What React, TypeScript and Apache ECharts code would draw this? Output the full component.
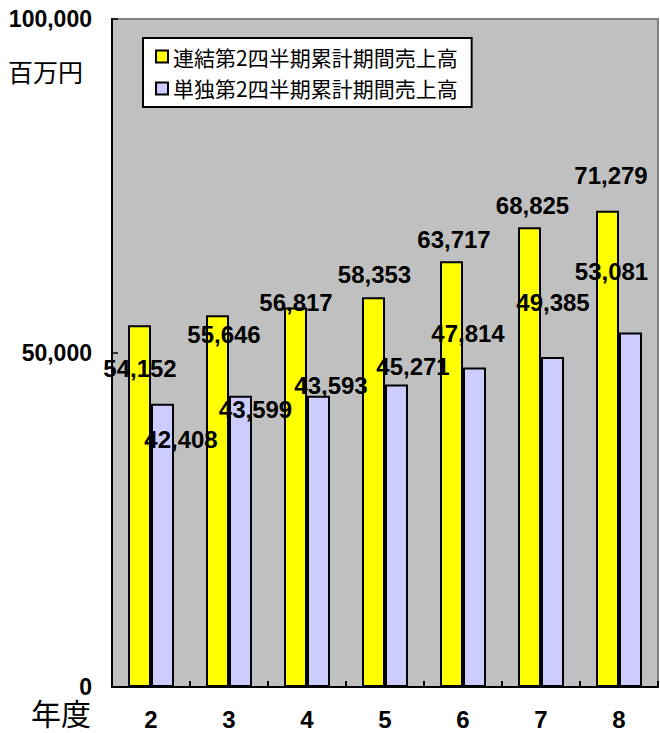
import React, { useEffect, useRef } from "react";
import * as echarts from "echarts";

const categories = ["2", "3", "4", "5", "6", "7", "8"];
const seriesNames = ["連結第2四半期累計期間売上高", "単独第2四半期累計期間売上高"];
const consolidated = [54152, 55646, 56817, 58353, 63717, 68825, 71279];
const standalone = [42408, 43599, 43593, 45271, 47814, 49385, 53081];
const yMin = 0;
const yMax = 100000;
const yInterval = 50000;

// label placement tweaks (style only), relative to bar top-center
const consolidatedLabelOffsets = [
  [0.5, 43], [6.5, 19], [0.5, -4.5], [1, -23], [2.5, -22], [3, -22], [3.5, -35],
];
const standaloneLabelOffsets = [
  [18.5, 36], [15, 14], [12.5, -10], [16.5, -18.5], [-6.5, -34], [0.5, -55], [-19, -61],
];

const fmt = (v: number) => v.toLocaleString("en-US");
const LATIN = "'Liberation Sans', Arial, sans-serif";
const CJK = "'Noto Sans CJK JP', 'Noto Sans CJK SC', sans-serif";

export default function App() {
  const ref = useRef<HTMLDivElement>(null);
  useEffect(() => {
    if (!ref.current) return;
    const chart = echarts.init(ref.current, null, { renderer: "svg" });
    const labelBase = {
      show: true,
      position: "top",
      distance: 0,
      verticalAlign: "middle",
      align: "center",
      fontSize: 24,
      fontWeight: "bold",
      fontFamily: LATIN,
      color: "#000",
      formatter: (p: any) => fmt(p.value),
    };
    chart.setOption({
      animation: false,
      backgroundColor: "#ffffff",
      grid: {
        left: 112,
        top: 19,
        right: 2,
        bottom: 46,
        show: true,
        backgroundColor: "#C0C0C0",
        borderColor: "#808080",
        borderWidth: 2,
      },
      legend: {
        orient: "vertical",
        left: 143,
        top: 38,
        backgroundColor: "#ffffff",
        borderColor: "#000000",
        borderWidth: 2,
        borderRadius: 0,
        padding: [8, 14, 8, 12],
        itemGap: 11,
        itemWidth: 12,
        itemHeight: 12,
        icon: "rect",
        textStyle: { fontSize: 21, fontFamily: CJK, color: "#000", padding: [0, 0, 0, 0] },
        data: seriesNames,
      },
      xAxis: {
        type: "category",
        data: categories,
        axisLine: { show: true, lineStyle: { color: "#000", width: 2 } },
        axisTick: { show: true, inside: true, length: 6, lineStyle: { color: "#000", width: 2 } },
        axisLabel: { fontSize: 24, fontWeight: "bold", fontFamily: LATIN, color: "#000", margin: 20 },
        splitLine: { show: false },
      },
      yAxis: {
        type: "value",
        min: yMin,
        max: yMax,
        interval: yInterval,
        axisLine: { show: true, lineStyle: { color: "#000", width: 2 } },
        axisTick: { show: true, inside: true, length: 6, lineStyle: { color: "#000", width: 1.5 } },
        axisLabel: { fontSize: 23, fontWeight: "bold", fontFamily: LATIN, color: "#000", margin: 20, formatter: (v: number) => fmt(v) },
        splitLine: { show: false },
      },
      graphic: [
        {
          type: "text",
          left: 8,
          top: 58,
          style: { text: "百万円", fontSize: 25, fontFamily: CJK, fill: "#000" },
        },
        {
          type: "text",
          left: 31,
          top: 697,
          style: { text: "年度", fontSize: 30, fontFamily: CJK, fill: "#000" },
        },
      ],
      series: [
        {
          name: seriesNames[0],
          type: "bar",
          barWidth: 23,
          barGap: "0%",
          itemStyle: { color: "#FFFF00", borderColor: "#000", borderWidth: 2 },
          label: labelBase,
          data: consolidated.map((v, i) => ({ value: v, label: { offset: consolidatedLabelOffsets[i] } })),
        },
        {
          name: seriesNames[1],
          type: "bar",
          barWidth: 23,
          barGap: "0%",
          itemStyle: { color: "#CCCCFF", borderColor: "#000", borderWidth: 2 },
          label: labelBase,
          data: standalone.map((v, i) => ({ value: v, label: { offset: standaloneLabelOffsets[i] } })),
        },
      ],
    });
    return () => chart.dispose();
  }, []);
  return (
    <div
      ref={ref}
      style={{ position: "fixed", left: 0, top: 0, width: 660, height: 733 }}
    />
  );
}
